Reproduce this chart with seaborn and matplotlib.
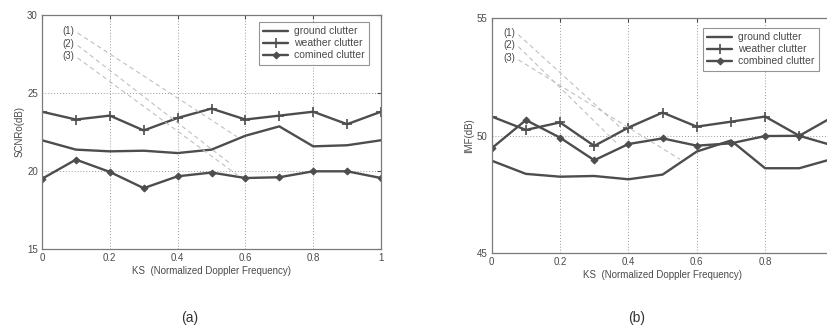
import numpy as np
import pandas as pd
import matplotlib
matplotlib.use("Agg")
import matplotlib.pyplot as plt
import seaborn as sns

# normalized doppler frequency
ks = [0, 0.1, 0.2, 0.3, 0.4, 0.5, 0.6, 0.7, 0.8, 0.9, 1.0]

# (a) SCNRo(dB)
scnr_ground = [21.97, 21.37, 21.26, 21.30, 21.15, 21.37, 22.26, 22.86, 21.58, 21.65, 21.97]
scnr_weather = [23.80, 23.30, 23.55, 22.60, 23.40, 24.00, 23.30, 23.55, 23.80, 23.00, 23.80]
scnr_combined = [19.50, 20.73, 19.94, 18.90, 19.66, 19.90, 19.55, 19.60, 19.98, 19.98, 19.55]

# (b) IMF(dB)
imf_ground = [48.94, 48.38, 48.26, 48.29, 48.15, 48.35, 49.33, 49.80, 48.62, 48.62, 49.03]
imf_weather = [50.82, 50.25, 50.57, 49.57, 50.35, 50.99, 50.39, 50.60, 50.82, 50.00, 50.82]
imf_combined = [49.47, 50.67, 49.92, 48.96, 49.65, 49.89, 49.58, 49.68, 49.99, 50.00, 49.58]

series_names = ["ground clutter", "weather clutter", "comined clutter"]
series_names_b = ["ground clutter", "weather clutter", "combined clutter"]

xtick_labels_a = ['0', '0.2', '0.4', '0.6', '0.8', '1']
xtick_labels_b = ['0', '0.2', '0.4', '0.6', '0.8', '']  # "1" falls off the scan

# the (1)(2)(3) callouts: label position -> end point
callouts_a = [((0.06, 28.95), (0.575, 22.2)),
              ((0.06, 28.15), (0.56, 20.4)),
              ((0.06, 27.35), (0.585, 19.6))]
callouts_b = [((0.033, 54.37), (0.375, 50.37)),
              ((0.033, 53.86), (0.366, 49.68)),
              ((0.033, 53.30), (0.551, 49.0))]

sns.set_style("white")
plt.rcParams['font.family'] = ['Liberation Sans', 'DejaVu Sans']

line_col = "#4d4d4d"
txt_col = "#4a4a4a"

fig = plt.figure(figsize=(8.27, 3.34), dpi=100)
ax_a = fig.add_axes([0.0508, 0.2545, 0.4099, 0.7006])
ax_b = fig.add_axes([0.5946, 0.2416, 0.4132, 0.7036])


def draw(ax, vals, names, ylim, yticks, ylabel, callouts, xlabels):
    styles = [dict(marker=None), dict(marker='+', markersize=7, markeredgewidth=1.2),
              dict(marker='D', markersize=3.5)]
    for v, n, st in zip(vals, names, styles):
        df = pd.DataFrame({'KS': ks, 'val': v})
        sns.lineplot(data=df, x='KS', y='val', ax=ax, color=line_col, linewidth=1.7,
                     label=n, markeredgecolor=line_col, markerfacecolor=line_col, **st)
    for i, ((lx, ly), (ex, ey)) in enumerate(callouts):
        ax.text(lx, ly, "(%d)" % (i + 1), fontsize=7, color=txt_col, va='center')
        ax.plot([lx + 0.045, ex], [ly - 0.1 * (ylim[1] - ylim[0]) / 15, ey],
                color="#c0c0c0", lw=0.8, ls=(0, (4, 3)))
    ax.set_xlim(0, 1)
    ax.set_ylim(*ylim)
    ax.set_xticks([0, 0.2, 0.4, 0.6, 0.8, 1])
    ax.set_xticklabels(xlabels)
    ax.set_yticks(yticks)
    ax.grid(True, color="#9a9a9a", ls=(0, (1, 2)), lw=0.7)
    ax.tick_params(direction='in', top=True, right=True, labelsize=7,
                   colors=txt_col, length=3, pad=3)
    for s in ax.spines.values():
        s.set_color("#7a7a7a")
        s.set_linewidth(0.9)
    ax.set_xlabel("KS  (Normalized Doppler Frequency)", fontsize=7, color=txt_col, labelpad=2)
    ax.set_ylabel(ylabel, fontsize=7, color=txt_col, labelpad=2)


draw(ax_a, [scnr_ground, scnr_weather, scnr_combined], series_names,
     (15, 30), [15, 20, 25, 30], "SCNRo(dB)", callouts_a, xtick_labels_a)
draw(ax_b, [imf_ground, imf_weather, imf_combined], series_names_b,
     (45, 55), [45, 50, 55], "IMF(dB)", callouts_b, xtick_labels_b)

for ax, anchor in [(ax_a, (0.313, 0.934)), (ax_b, (0.850, 0.916))]:
    leg = ax.legend(loc='upper left', bbox_to_anchor=anchor, bbox_transform=fig.transFigure,
                    fontsize=7.5, frameon=True, fancybox=False, handlelength=2.4,
                    borderpad=0.4, labelspacing=0.2, handletextpad=0.6, borderaxespad=0)
    leg.get_frame().set_edgecolor("#7a7a7a")
    leg.get_frame().set_linewidth(0.8)
    for t in leg.get_texts():
        t.set_color(txt_col)

fig.text(190 / 827, 1 - 318 / 334, "(a)", fontsize=10, color="#333333", ha='center', va='center')
fig.text(637 / 827, 1 - 318 / 334, "(b)", fontsize=10, color="#333333", ha='center', va='center')

fig.savefig("out.png", dpi=100)
